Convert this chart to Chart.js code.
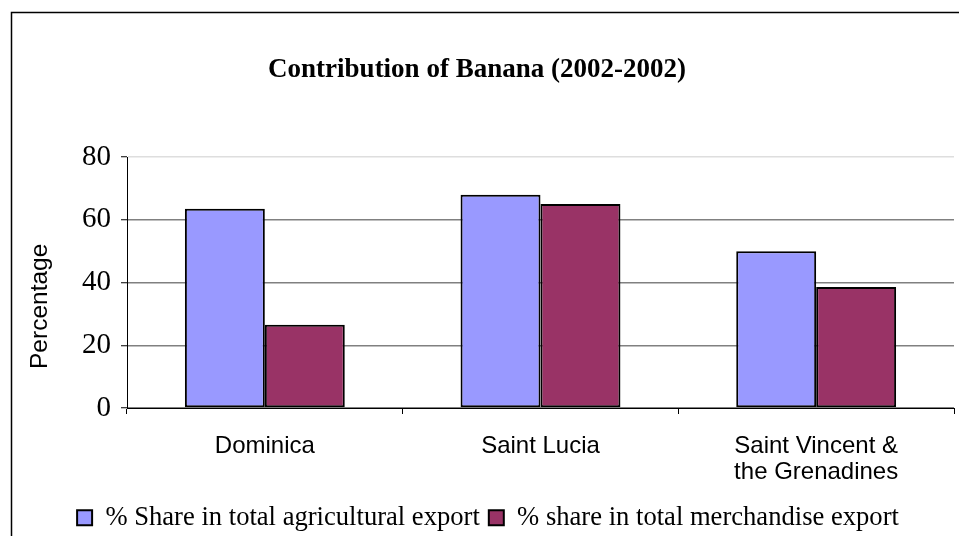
<!DOCTYPE html>
<html>
<head>
<meta charset="utf-8">
<script src="https://cdn.jsdelivr.net/npm/chart.js@4"></script>
<style>
  html, body { margin: 0; padding: 0; background: #fff; }
  #wrap { width: 959px; height: 536px; position: relative; }
</style>
</head>
<body>
<div id="wrap"><canvas id="c" width="959" height="536"></canvas></div>
<script>
const categories = ["Dominica", "Saint Lucia", ["Saint Vincent &", "the Grenadines"]];
const seriesNames = ["% Share in total agricultural export", "% share in total merchandise export"];
const agriculturalShare = [63.5, 68.0, 50.0];
const merchandiseShare = [26.5, 65.0, 38.6];
const yTicks = [0, 20, 40, 60, 80];
const chartTitle = 'Contribution of Banana (2002-2002)';
const yAxisTitle = 'Percentage';

const SERIF = "'Liberation Serif', 'Times New Roman', serif";
const SANS = "'Liberation Sans', Arial, sans-serif";

const framePlugin = {
  id: 'frame',
  afterLayout(chart) {
    const lg = chart.legend;
    if (lg) {
      lg.left += 11; lg.right += 11;
      lg.top += 5; lg.bottom += 5;
    }
  },
  beforeDraw(chart) {
    const ctx = chart.ctx;
    ctx.save();
    ctx.fillStyle = '#fff';
    ctx.fillRect(0, 0, chart.width, chart.height);
    ctx.strokeStyle = '#000';
    ctx.lineWidth = 1.5;
    ctx.beginPath();
    ctx.moveTo(11.5, chart.height + 5);
    ctx.lineTo(11.5, 12.5);
    ctx.lineTo(chart.width + 5, 12.5);
    ctx.stroke();
    ctx.restore();
  }
};

new Chart(document.getElementById('c'), {
  type: 'bar',
  data: {
    labels: categories,
    datasets: [
      {
        label: seriesNames[0],
        data: agriculturalShare,
        backgroundColor: '#9999FF',
        borderColor: '#000000',
        borderWidth: 2,
        borderSkipped: false
      },
      {
        label: seriesNames[1],
        data: merchandiseShare,
        backgroundColor: '#993366',
        borderColor: '#000000',
        borderWidth: 2,
        borderSkipped: false
      }
    ]
  },
  options: {
    responsive: false,
    animation: false,
    devicePixelRatio: 1,
    layout: { padding: { left: 0, right: 5, top: 0, bottom: 0 } },
    datasets: { bar: { barPercentage: 1.0, categoryPercentage: 0.58 } },
    plugins: {
      tooltip: { enabled: false },
      title: {
        display: true,
        text: chartTitle,
        color: '#000',
        font: { family: SERIF, size: 27, weight: 'bold', lineHeight: 1.2 },
        padding: { top: 53.8, bottom: 70.8 }
      },
      legend: {
        display: true,
        position: 'bottom',
        labels: {
          color: '#000',
          font: { family: SERIF, size: 26.6 },
          boxWidth: 15,
          boxHeight: 15,
          padding: 9
        }
      }
    },
    scales: {
      x: {
        grid: {
          display: true,
          drawOnChartArea: false,
          drawTicks: true,
          tickLength: 6,
          tickColor: '#000',
          tickWidth: 1
        },
        border: { display: true, color: '#000', width: 1 },
        ticks: {
          color: '#000',
          font: { family: SANS, size: 24, lineHeight: 1.1 },
          padding: 19,
          maxRotation: 0,
          autoSkip: false
        },
        afterFit(scale) { scale.height = 82.4; }
      },
      y: {
        min: 0,
        max: 80,
        afterBuildTicks(scale) { scale.ticks = yTicks.map(v => ({ value: v })); },
        grid: {
          color(ctx) { return ctx.tick && ctx.tick.value === 80 ? '#dedede' : '#808080'; },
          lineWidth: 1.5,
          drawTicks: true,
          tickLength: 6,
          tickColor: '#000',
          tickWidth: 1
        },
        border: { display: true, color: '#000', width: 1 },
        ticks: {
          color: '#000',
          font: { family: SERIF, size: 29 },
          padding: 10
        },
        title: {
          display: true,
          text: yAxisTitle + '\u0020\u0020\u0020\u0020\u0020\u0020\u0020',
          color: '#000',
          font: { family: SANS, size: 24.5 },
          padding: { top: 26, bottom: 0 }
        },
        afterFit(scale) { scale.width = 127; }
      }
    }
  },
  plugins: [framePlugin]
});
</script>
</body>
</html>
